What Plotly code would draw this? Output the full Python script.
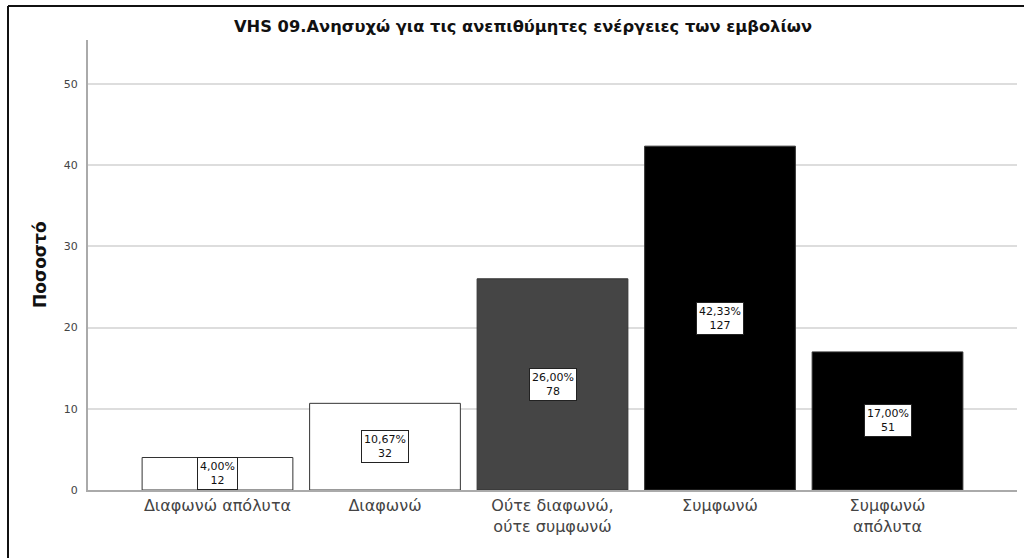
import plotly.graph_objects as go

categories = ["Διαφωνώ απόλυτα", "Διαφωνώ", "Ούτε διαφωνώ,<br>ούτε συμφωνώ", "Συμφωνώ", "Συμφωνώ<br>απόλυτα"]
percents = [4.00, 10.67, 26.00, 42.33, 17.00]
counts = [12, 32, 78, 127, 51]
bar_colors = ["#ffffff", "#ffffff", "#454545", "#000000", "#000000"]
y_ticks = [0, 10, 20, 30, 40, 50]

title_text = "VHS 09.Ανησυχώ για τις ανεπιθύμητες ενέργειες των εμβολίων"
y_title = "Ποσοστό"

FONT = "DejaVu Sans, Liberation Sans, Arial"
x_idx = list(range(len(categories)))

fig = go.Figure()
fig.add_trace(go.Bar(
    x=x_idx, y=percents,
    marker=dict(color=bar_colors, line=dict(color="#333333", width=1)),
    width=0.9,
    hoverinfo="skip",
))

for i, (p, c) in enumerate(zip(percents, counts)):
    fig.add_annotation(
        x=i, y=p / 2, xref="x", yref="y",
        text=f"{p:.2f}%".replace(".", ",") + f"<br>{c}",
        showarrow=False,
        font=dict(family=FONT, size=11, color="#111111"),
        bgcolor="#ffffff", bordercolor="#222222", borderwidth=1, borderpad=2,
        align="center",
    )

W, H = 1024, 558
ml, mr, mt, mb = 88, 7, 40, 68
pw = W - ml - mr
ph = H - mt - mb

def px_to_paper_x(px):
    return (px - ml) / pw

def px_to_paper_y(py):
    return (H - mb - py) / ph

# outer frame (top and left visible)
fig.add_shape(type="line", xref="paper", yref="paper",
              x0=px_to_paper_x(8), x1=px_to_paper_x(1024),
              y0=px_to_paper_y(6), y1=px_to_paper_y(6),
              line=dict(color="#111111", width=2))
fig.add_shape(type="line", xref="paper", yref="paper",
              x0=px_to_paper_x(8), x1=px_to_paper_x(8),
              y0=px_to_paper_y(6), y1=px_to_paper_y(558),
              line=dict(color="#111111", width=2))

fig.add_annotation(
    text=f"<b>{title_text}</b>", xref="paper", yref="paper",
    x=px_to_paper_x(523), y=px_to_paper_y(27), showarrow=False,
    font=dict(family=FONT, size=16.3, color="#111111"),
    xanchor="center", yanchor="middle",
)
fig.add_annotation(
    text=f"<b>{y_title}</b>", xref="paper", yref="paper",
    x=px_to_paper_x(40), y=px_to_paper_y(265), showarrow=False,
    font=dict(family=FONT, size=17, color="#111111"),
    textangle=-90, xanchor="center", yanchor="middle",
)

fig.update_layout(
    width=W, height=H,
    margin=dict(l=ml, r=mr, t=mt, b=mb, autoexpand=False),
    paper_bgcolor="#ffffff", plot_bgcolor="#ffffff",
    showlegend=False,
    bargap=0.1,
    font=dict(family=FONT, color="#444444"),
)
fig.update_xaxes(
    range=[-0.773, 4.773],
    tickmode="array", tickvals=x_idx, ticktext=categories,
    tickfont=dict(size=16, color="#444444"),
    showgrid=False, zeroline=False,
    showline=True, linecolor="#aaaaaa", linewidth=2,
    ticks="", ticklen=0, automargin=False,
)
fig.update_yaxes(
    range=[0, 55.4],
    tickmode="array", tickvals=y_ticks,
    tickfont=dict(size=11, color="#444444"),
    showgrid=True, gridcolor="#dddddd", gridwidth=1.5,
    zeroline=False,
    showline=True, linecolor="#aaaaaa", linewidth=2,
    ticks="", ticklabelstandoff=6, automargin=False,
)

fig.write_html(
    "out.html",
    config={"displayModeBar": False},
    post_script="document.body.style.margin='0';document.body.style.overflow='hidden';",
)
